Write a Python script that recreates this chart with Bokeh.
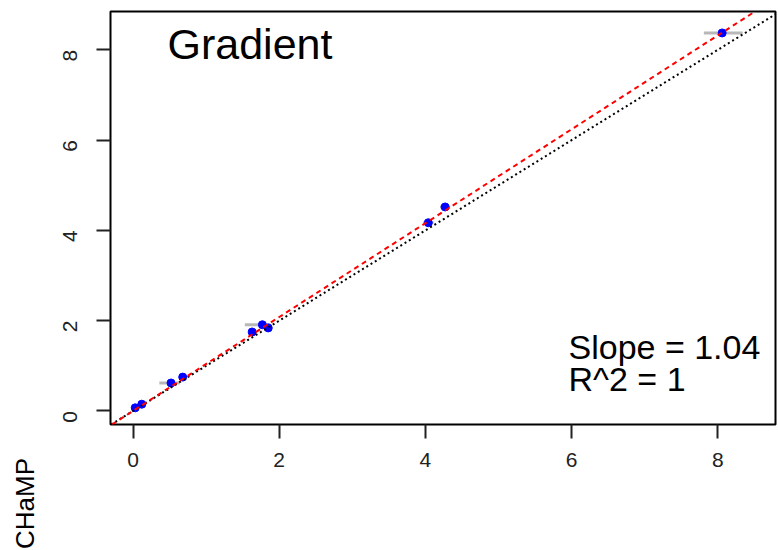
from bokeh.plotting import figure
from bokeh.layouts import row
from bokeh.models import Range1d, Slope, Label, FixedTicker, ColumnDataSource
from bokeh.core.properties import value
from bokeh.embed import file_html
from bokeh.resources import INLINE
import math

# Measured values (x) vs CHaMP values (y) for the gradient metric
x_vals = [0.03, 0.12, 0.52, 0.68, 1.63, 1.77, 1.85, 4.04, 4.27, 8.06]
y_vals = [0.07, 0.15, 0.62, 0.75, 1.75, 1.91, 1.84, 4.17, 4.52, 8.375]
# horizontal error-bar extents
x_lo = [0.01, 0.08, 0.36, 0.64, 1.58, 1.53, 1.80, 3.97, 4.20, 7.81]
x_hi = [0.05, 0.16, 0.64, 0.72, 1.68, 1.88, 1.90, 4.11, 4.34, 8.34]

fit_slope = 1.04
fit_intercept = 0.0
r_squared = 1

ticks = [0, 2, 4, 6, 8]
y_title = "CHaMP"

FONT = "Liberation Sans"

# narrow strip on the left that carries the rotated axis title
side = figure(width=45, height=550, output_backend="svg", toolbar_location=None,
              x_range=Range1d(0, 45), y_range=Range1d(0, 550),
              x_axis_type=None, y_axis_type=None, min_border=0)
side.frame_align = False
side.outline_line_color = None
side.xgrid.visible = False
side.ygrid.visible = False
side.text(x=[24], y=[47], text=[y_title], angle=math.pi / 2,
          text_align="center", text_baseline="middle", text_color="black",
          text_font=value(FONT), text_font_size="26px")

p = figure(width=733, height=550, output_backend="svg", toolbar_location=None,
           x_range=Range1d(-0.308, 8.79), y_range=Range1d(-0.30, 8.85),
           min_border_left=65, min_border_right=3, min_border_top=11,
           min_border_bottom=126)
p.frame_align = False
p.xgrid.visible = False
p.ygrid.visible = False
p.outline_line_color = "black"
p.outline_line_width = 2
p.background_fill_color = "white"
p.border_fill_color = "white"

for ax in (p.xaxis[0], p.yaxis[0]):
    ax.ticker = FixedTicker(ticks=ticks)
    ax.axis_line_color = None
    ax.major_tick_out = 14
    ax.major_tick_in = 0
    ax.minor_tick_line_color = None
    ax.major_tick_line_color = "#222222"
    ax.major_tick_line_width = 2
    ax.major_label_text_font = FONT
    ax.major_label_text_font_size = "21px"
    ax.major_label_text_color = "#222222"
    ax.major_label_standoff = 14
p.yaxis[0].major_label_orientation = math.pi / 2
p.yaxis[0].major_label_standoff = 26

src = ColumnDataSource(dict(x=x_vals, y=y_vals, lo=x_lo, hi=x_hi))

# identity line and fitted line
p.add_layout(Slope(gradient=1, y_intercept=0, line_color="black",
                   line_dash="2 3", line_width=2))
p.add_layout(Slope(gradient=fit_slope, y_intercept=fit_intercept,
                   line_color="red", line_dash="5 4", line_width=2))

p.segment(x0="lo", y0="y", x1="hi", y1="y", source=src,
          line_color="#b8b8b8", line_width=3)
p.scatter(x="x", y="y", source=src, size=8, fill_color="blue",
          line_color="blue")

p.add_layout(Label(x=57, y=381, x_units="screen", y_units="screen",
                   text="Gradient", text_font=FONT, text_font_size="43px",
                   text_baseline="alphabetic", text_color="black"))
p.add_layout(Label(x=458, y=78, x_units="screen", y_units="screen",
                   text=f"Slope = {fit_slope:.2f}", text_font=FONT,
                   text_font_size="34px", text_baseline="alphabetic",
                   text_color="black"))
p.add_layout(Label(x=458, y=46, x_units="screen", y_units="screen",
                   text=f"R^2 = {r_squared}", text_font=FONT,
                   text_font_size="34px", text_baseline="alphabetic",
                   text_color="black"))

open("out.html", "w").write(file_html(row(side, p), INLINE))
